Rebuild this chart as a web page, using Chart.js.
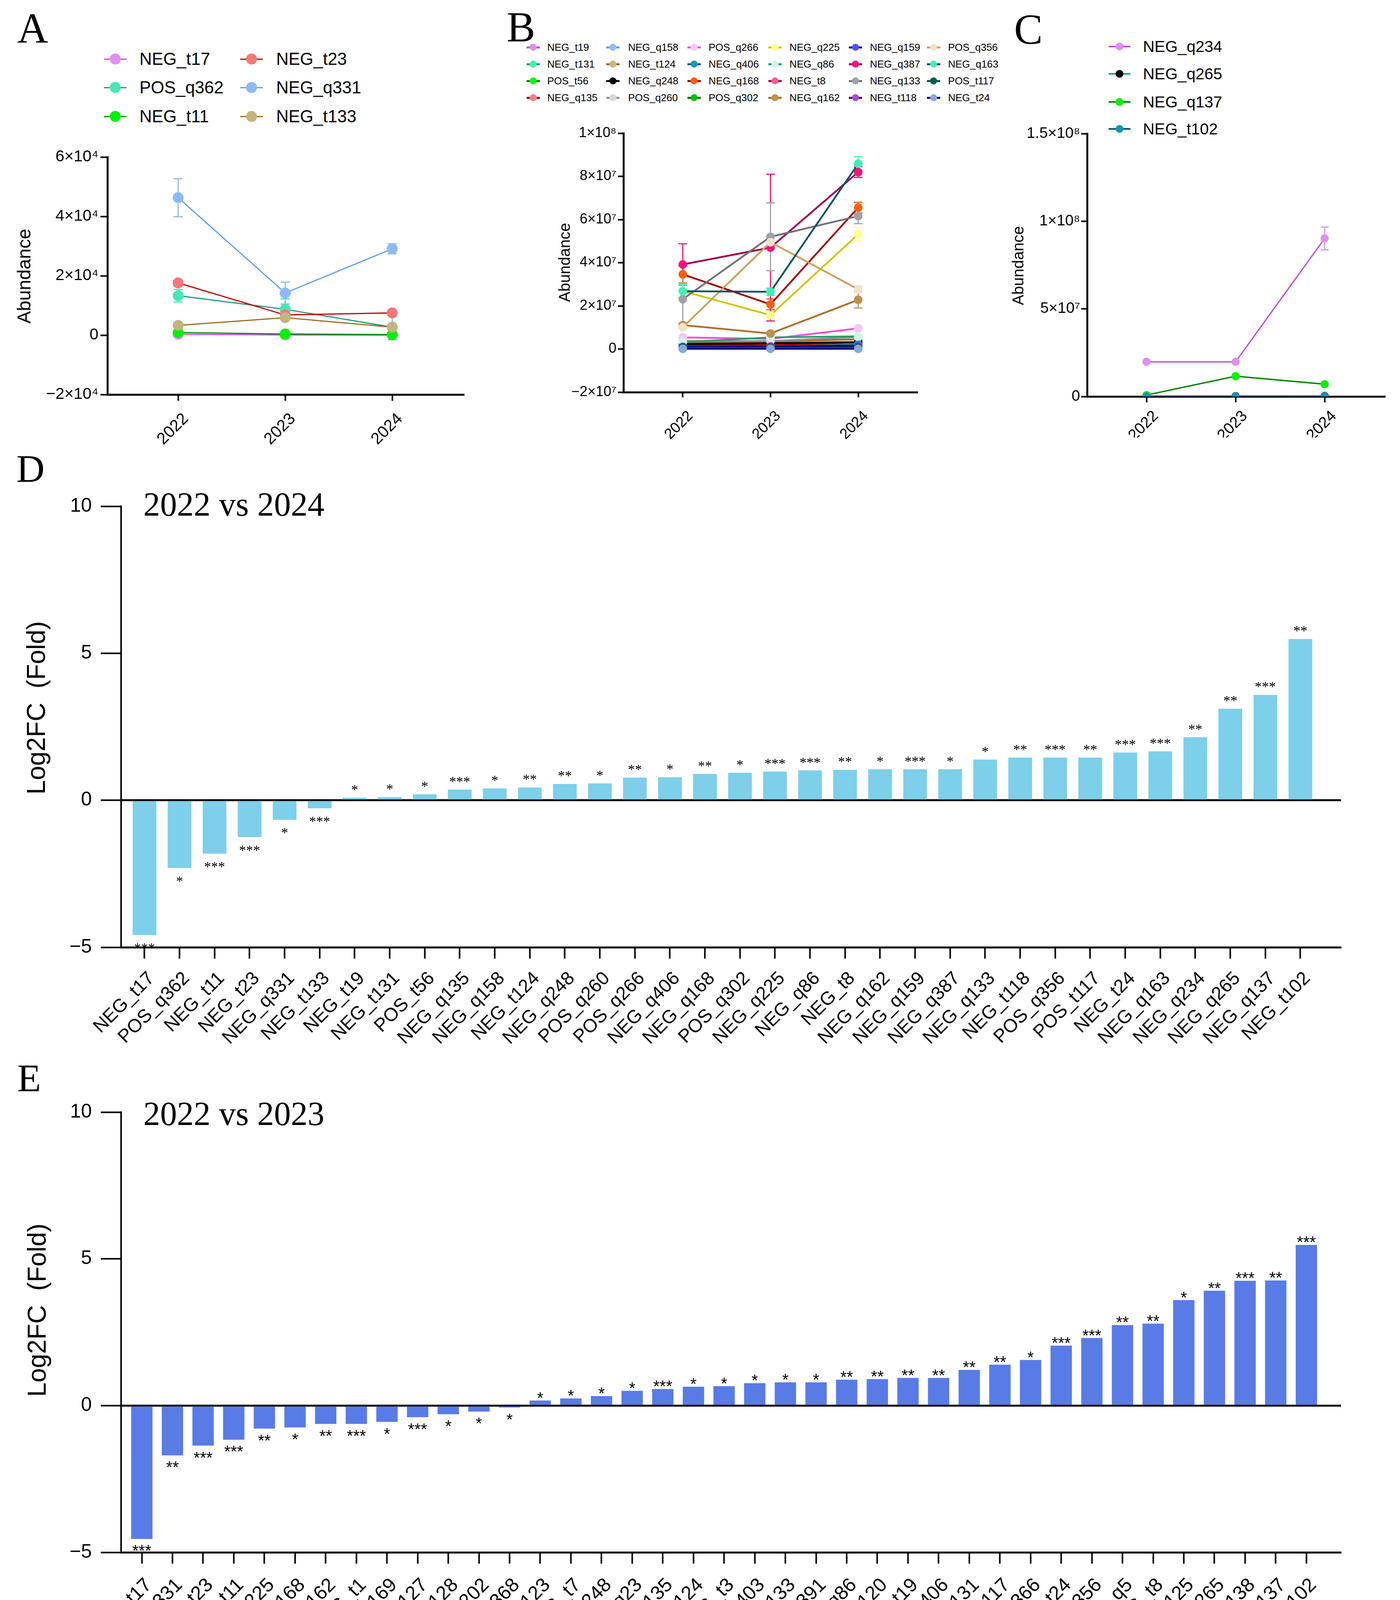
<!DOCTYPE html>
<html><head><meta charset="utf-8">
<script src="https://cdn.jsdelivr.net/npm/chart.js@4.4.1/dist/chart.umd.min.js"></script>
<style>
html,body{margin:0;padding:0;background:#fff}
body{width:3584px;height:5902px;position:relative;overflow:hidden;font-family:"Liberation Sans",Arial,sans-serif;color:#000}
canvas{position:absolute}
.t{position:absolute;line-height:1;white-space:nowrap}
.serif{font-family:"Liberation Serif","Times New Roman",serif}
.rot{transform:translate(-50%,-50%) rotate(-90deg)}
</style></head><body>

<canvas id="cA" width="1250" height="800" style="left:0;top:350px"></canvas>
<canvas id="cB" width="1300" height="840" style="left:1290px;top:290px"></canvas>
<canvas id="cC" width="994" height="820" style="left:2590px;top:300px"></canvas>
<canvas id="cD" width="3584" height="1530" style="left:0;top:1150px"></canvas>
<canvas id="cE" width="3584" height="1560" style="left:0;top:2780px"></canvas>
<canvas id="cF" width="3584" height="1522" style="left:0;top:4380px"></canvas>

<div class="t serif" style="left:44px;top:17px;font-size:110px">A</div>
<div class="t serif" style="left:1297px;top:14px;font-size:110px">B</div>
<div class="t serif" style="left:2596px;top:20px;font-size:110px">C</div>
<div class="t serif" style="left:42px;top:1150px;font-size:100px">D</div>
<div class="t serif" style="left:44px;top:2710px;font-size:100px">E</div>
<div class="t serif" style="left:62px;top:4379px;font-size:100px">F</div>

<div class="t serif" style="left:367px;top:1248px;font-size:86px">2022 vs 2024</div>
<div class="t serif" style="left:367px;top:2808px;font-size:86px">2022 vs 2023</div>
<div class="t serif" style="left:367px;top:4420px;font-size:86px">2023 vs 2024</div>

<div class="t rot" style="left:62px;top:707px;font-size:48px">Abundance</div>
<div class="t rot" style="left:1445px;top:672px;font-size:40px">Abundance</div>
<div class="t rot" style="left:2606px;top:680px;font-size:40px">Abundance</div>
<div class="t rot" style="left:92px;top:1812px;font-size:66px">Log2FC&nbsp; (Fold)</div>
<div class="t rot" style="left:94px;top:3354px;font-size:66px">Log2FC&nbsp; (Fold)</div>
<div class="t rot" style="left:97px;top:4982px;font-size:66px">Log2FC&nbsp; (Fold)</div>

<script>
const years=[2022,2023,2024];

/* A: down-regulated features */
const aNames=["NEG_t17","POS_q362","NEG_t11","NEG_t23","NEG_q331","NEG_t133"];
const aMean=[[300,60,15],[13300,8700,2700],[900,400,200],[17600,6800,7500],[46300,14200,29100],[3300,5900,2700]];
const aErr=[[0,0,0],[2100,3500,4200],[0,0,0],[0,0,0],[6400,3700,1700],[0,0,0]];
const aYTicks=["−2×10⁴","0","2×10⁴","4×10⁴","6×10⁴"];
const aMarker=["#e48ef0","#46e8b4","#00f000","#f47878","#8ebaf4","#c4b482"];
const aLine=["#c050e0","#1a9a78","#009000","#c00000","#5a9cf0","#a06a20"];

/* B */
const bNames=["NEG_t19","NEG_t131","POS_t56","NEG_q135","NEG_q158","NEG_t124","NEG_q248","POS_q260",
 "POS_q266","NEG_q406","NEG_q168","POS_q302","NEG_q225","NEG_q86","NEG_t8","NEG_q162",
 "NEG_q159","NEG_q387","NEG_q133","NEG_t118","POS_q356","NEG_q163","POS_t117","NEG_t24"];
const bMean=[[8e5,5e5,1e6],[1.5e6,1.2e6,2e6],[5e5,4e5,6e5],[2e6,1.8e6,3e6],[2e5,2e5,3e5],[3e6,3.5e6,4.5e6],[2.3e6,2.7e6,3.2e6],[3.7e6,3.7e6,5.5e6],
 [5.4e6,4.7e6,9.6e6],[1.5e6,1e6,2e6],[3.46e7,2.07e7,6.55e7],[5e5,6e5,6e5],[2.68e7,1.57e7,5.32e7],[3.2e6,5.4e6,5.9e6],[1e6,1.2e6,1.5e6],[1.11e7,7.2e6,2.28e7],
 [1e6,1e6,1.5e6],[3.92e7,4.7e7,8.2e7],[2.31e7,5.2e7,6.16e7],[5e5,5e5,8e5],[1.01e7,4.95e7,2.77e7],[2.68e7,2.65e7,8.59e7],[6e5,6e5,7e5],[1e5,1e5,1e5]];
const bErr=[[0,0,0],[0,0,0],[0,0,0],[0,0,0],[0,0,0],[0,0,0],[0,0,0],[0,0,0],
 [0,0,0],[0,0,0],[4e6,2.5e6,2.5e6],[0,0,0],[1.5e6,1.5e6,3.2e6],[0,0,0],[0,0,0],[1e6,5e5,3.8e6],
 [0,0,0],[9.6e6,3.4e7,2.5e6],[1.17e7,1.57e7,3.5e6],[0,0,0],[5e5,1e6,1.5e6],[3e6,1.7e6,3.2e6],[0,0,0],[0,0,0]];
const bYTicks=["−2×10⁷","0","2×10⁷","4×10⁷","6×10⁷","8×10⁷","1×10⁸"];
const bMarker=["#e08cf0","#44eeb4","#00ff00","#f88080","#90bef6","#c8b888","#000000","#d8d8d8",
 "#f4c8f4","#1898b8","#ff6010","#00c000","#ffff90","#cff7e6","#f06090","#c09050",
 "#5050ff","#ff1080","#a0a0a8","#a050d0","#ede4c8","#40f0b4","#006048","#88a8d8"];
const bLine=["#c050d8","#20a07a","#008000","#a00000","#5a9ef0","#a06820","#000000","#909090",
 "#ff48d8","#005878","#a00000","#006000","#c8c800","#20a070","#a00048","#a8702a",
 "#000080","#a00050","#707070","#400060","#c8a060","#005060","#005050","#000080"];

/* C */
const cNames=["NEG_q234","NEG_q265","NEG_q137","NEG_t102"];
const cMean=[[1.98e7,1.98e7,9.02e7],[2e5,2e5,3e5],[8e5,1.16e7,7e6],[1e5,1e5,1e5]];
const cErr=[[0,0,6.5e6],[0,0,0],[0,0,0],[0,0,0]];
const cYTicks=["0","5×10⁷","1×10⁸","1.5×10⁸"];
const cMarker=["#e08ef0","#000000","#00f000","#1095b0"];
const cLine=["#c050e0","#20a080","#008000","#00506a"];

/* D: 2022 vs 2024 */
const dLabels=["NEG_t17","POS_q362","NEG_t11","NEG_t23","NEG_q331","NEG_t133","NEG_t19","NEG_t131","POS_t56","NEG_q135","NEG_q158","NEG_t124",
 "NEG_q248","POS_q260","POS_q266","NEG_q406","NEG_q168","POS_q302","NEG_q225","NEG_q86","NEG_t8","NEG_q162","NEG_q159","NEG_q387",
 "NEG_q133","NEG_t118","POS_q356","POS_t117","NEG_t24","NEG_q163","NEG_q234","NEG_q265","NEG_q137","NEG_t102"];
const dValues=[-4.58,-2.30,-1.81,-1.25,-0.66,-0.27,0.08,0.10,0.20,0.36,0.40,0.43,
 0.55,0.57,0.77,0.78,0.89,0.93,0.97,1.01,1.03,1.05,1.05,1.05,
 1.38,1.45,1.45,1.45,1.62,1.66,2.14,3.11,3.58,5.48];
const dSig=["***","*","***","***","*","***","*","*","*","***","*","**",
 "**","*","**","*","**","*","***","***","**","*","***","*",
 "*","**","***","**","***","***","**","**","***","**"];
const dYTicks=["−5","0","5","10"];

/* E: 2022 vs 2023 */
const eLabels=["NEG_t17","NEG_q331","NEG_t23","NEG_t11","NEG_q225","NEG_q168","NEG_q162","POS_t1","NEG_q169","NEG_q127","NEG_q128","NEG_q202","NEG_q368",
 "POS_t123","NEG_t7","NEG_q248","POS_q23","NEG_q135","POS_q124","NEG_t3","NEG_q403","NEG_t133","NEG_q391","NEG_q86","POS_t120","NEG_t19",
 "NEG_q406","NEG_t131","POS_t117","NEG_q366","NEG_t24","POS_q356","POS_q5","NEG_t8","POS_q125","NEG_q265","NEG_q138","NEG_q137","NEG_t102"];
const eValues=[-4.54,-1.69,-1.36,-1.16,-0.78,-0.74,-0.62,-0.62,-0.55,-0.39,-0.29,-0.20,-0.06,
 0.17,0.24,0.32,0.50,0.56,0.64,0.66,0.76,0.79,0.79,0.88,0.90,0.94,
 0.94,1.21,1.39,1.55,2.04,2.30,2.74,2.79,3.59,3.91,4.25,4.26,5.47];
const eSig=["***","**","***","***","**","*","**","***","*","***","*","*","*",
 "*","*","*","*","***","*","*","*","*","*","**","**","**",
 "**","**","**","*","***","***","**","**","*","**","***","**","***"];
const eYTicks=["−5","0","5","10"];

/* F: 2023 vs 2024 */
const fLabels=["NEG_t8","NEG_q138","POS_q5","NEG_q366","NEG_t131","NEG_t133","POS_t120","NEG_t19","POS_q356","NEG_q265","NEG_q137","POS_q222",
 "NEG_t11","NEG_t24","NEG_q135","NEG_q202","NEG_t13","POS_t56","NEG_q346","NEG_q127","POS_q260","NEG_t124","POS_t1","POS_q6",
 "POS_q262","POS_q266","NEG_q331","NEG_q159","NEG_t118","NEG_q168","NEG_q162","NEG_q163","NEG_q225","NEG_q234","NEG_q368"];
const fValues=[-1.78,-1.65,-1.61,-1.17,-1.11,-1.03,-0.93,-0.83,-0.82,-0.79,-0.68,-0.68,
 -0.63,-0.40,-0.18,0.21,0.23,0.29,0.33,0.39,0.56,0.66,0.70,0.76,
 0.79,0.99,1.03,1.12,1.58,1.65,1.68,1.70,1.76,2.18,2.49];
const fSig=["**","*","*","*","**","**","**","**","***","*","**","*",
 "**","*","**","***","*","*","*","**","*","**","*","*",
 "**","*","**","***","**","***","*","***","***","**","*"];
const fYTicks=["−2","−1","0","1","2","3"];

Chart.defaults.font.family='"Liberation Sans", Arial, sans-serif';
Chart.defaults.color='#000';
Chart.defaults.animation=false;

// error bars in the marker colour, under the points
const errorBars={
 id:'errorBars',
 beforeDatasetsDraw(chart,args,o){
  const {ctx,scales:{x,y}}=chart;
  chart.data.datasets.forEach(ds=>{
   if(!ds.errors)return;
   ds.errors.forEach((e,j)=>{
    if(!e)return;
    const p=ds.data[j];
    const px=x.getPixelForValue(p.x);
    const top=y.getPixelForValue(p.y+e),bot=y.getPixelForValue(p.y-e);
    ctx.save();
    ctx.strokeStyle=ds.pointBackgroundColor;
    ctx.lineWidth=o.width;
    ctx.beginPath();
    ctx.moveTo(px,top);ctx.lineTo(px,bot);
    ctx.moveTo(px-o.cap,top);ctx.lineTo(px+o.cap,top);
    ctx.moveTo(px-o.cap,bot);ctx.lineTo(px+o.cap,bot);
    ctx.stroke();
    ctx.restore();
   });
  });
 }
};

// significance stars above / below each bar
const sigStars={
 id:'sigStars',
 afterDatasetsDraw(chart,args,o){
  const ctx=chart.ctx;
  const ds=chart.data.datasets[0];
  const meta=chart.getDatasetMeta(0);
  ctx.save();
  ctx.font=o.font;
  ctx.fillStyle='#000';
  ctx.textAlign='center';
  ctx.textBaseline='alphabetic';
  meta.data.forEach((bar,i)=>{
   const v=ds.data[i].y;
   const cy=v>=0?bar.y-o.up:bar.y+o.down;
   ctx.fillText(ds.sig[i],bar.x,cy+o.shift);
  });
  ctx.restore();
 }
};

function lineChart(id,names,mean,err,marker,line,o){
 const datasets=names.map((n,i)=>({
  label:n,
  data:mean[i].map((v,j)=>({x:years[j],y:v})),
  errors:err[i],
  borderColor:line[i],
  backgroundColor:marker[i],
  pointBackgroundColor:marker[i],
  pointBorderColor:marker[i],
  pointBorderWidth:0,
  pointRadius:o.r,
  borderWidth:o.lw,
  tension:0,
  fill:false,
  order:-i
 }));
 return new Chart(document.getElementById(id),{
  type:'line',
  data:{datasets},
  options:{
   responsive:false,devicePixelRatio:1,animation:false,
   layout:{padding:{left:0,top:o.top,right:o.right,bottom:0}},
   plugins:{legend:{display:false},tooltip:{enabled:false},errorBars:{width:o.ew,cap:o.cap}},
   scales:{
    x:{type:'linear',min:o.xmin,max:o.xmax,
     afterBuildTicks:a=>{a.ticks=years.map(v=>({value:v}));},
     afterFit:s=>{s.height=o.xh;},
     grid:{drawOnChartArea:false,tickLength:o.xtl,tickWidth:4,tickColor:'#000'},
     border:{width:5,color:'#000'},
     ticks:{minRotation:45,maxRotation:45,autoSkip:false,padding:o.xpad,labelOffset:o.xoff,font:{size:o.xfs},callback:v=>String(v)}},
    y:{min:o.ymin,max:o.ymax,
     afterFit:s=>{s.width=o.yw;},
     grid:{drawOnChartArea:false,tickLength:o.ytl,tickWidth:4,tickColor:'#000'},
     border:{width:5,color:'#000'},
     ticks:{stepSize:o.step,padding:o.ypad,font:{size:o.yfs},callback:(v,i)=>o.ylabels[i]}}
   }
  },
  plugins:[errorBars]
 });
}

function barChart(id,labels,values,sig,o){
 return new Chart(document.getElementById(id),{
  type:'bar',
  data:{datasets:[{data:values.map((v,i)=>({x:i,y:v})),sig,backgroundColor:o.color,barThickness:o.bw}]},
  options:{
   responsive:false,devicePixelRatio:1,animation:false,
   layout:{padding:{left:0,top:o.top,right:o.right,bottom:0}},
   plugins:{legend:{display:false},tooltip:{enabled:false},sigStars:{font:o.starFont,up:o.up,down:o.down,shift:o.shift}},
   scales:{
    x:{type:'linear',offset:false,min:o.xmin,max:o.xmax,
     afterBuildTicks:a=>{a.ticks=labels.map((_,i)=>({value:i}));},
     afterFit:s=>{s.height=o.xh;},
     grid:{offset:false,drawOnChartArea:false,tickLength:29,tickWidth:4,tickColor:'#000'},
     border:{width:5,color:'#000'},
     ticks:{minRotation:45,maxRotation:45,autoSkip:false,padding:o.xpad,labelOffset:o.xoff,font:{size:o.xfs},callback:(v,i)=>labels[i]}},
    y:{min:o.ymin,max:o.ymax,
     afterFit:s=>{s.width=o.yw;},
     grid:{color:c=>c.tick&&c.tick.value===0?'#000':'rgba(0,0,0,0)',lineWidth:5,tickLength:52,tickWidth:4,tickColor:'#000'},
     border:{width:4,color:'#000'},
     ticks:{stepSize:o.step,padding:23,font:{size:50},callback:(v,i)=>o.ylabels[i]}}
   }
  },
  plugins:[sigStars]
 });
}

function legend(names,marker,line,o){
 names.forEach((n,i)=>{
  const col=Math.floor(i/o.rows),row=i%o.rows;
  const mx=o.mx[col],y=o.ry[row];
  const l=document.createElement('div');
  l.style.cssText=`position:absolute;left:${mx-o.half}px;top:${y-o.lw/2}px;width:${2*o.half}px;height:${o.lw}px;background:${line[i]}`;
  const m=document.createElement('div');
  m.style.cssText=`position:absolute;left:${mx-o.r}px;top:${y-o.r}px;width:${2*o.r}px;height:${2*o.r}px;border-radius:50%;background:${marker[i]}`;
  const t=document.createElement('div');
  t.className='t';
  t.style.cssText+=`left:${o.tx[col]}px;top:${y-o.fs/2}px;font-size:${o.fs}px`;
  t.textContent=n;
  document.body.append(l,m,t);
 });
}

lineChart('cA',aNames,aMean,aErr,aMarker,aLine,{r:14,lw:3,ew:3,cap:12,top:52,right:62,xmin:2021.339,xmax:2024.671,xh:140,xtl:16,xpad:22,xoff:20,xfs:42,
 ymin:-20000,ymax:60000,step:20000,ylabels:aYTicks,yw:275,ytl:18,ypad:5,yfs:41});
lineChart('cB',bNames,bMean,bErr,bMarker,bLine,{r:11,lw:4.5,ew:3,cap:11,top:51,right:241,xmin:2021.323,xmax:2024.677,xh:126,xtl:13,xpad:26,xoff:20,xfs:38,
 ymin:-2e7,ymax:1e8,step:2e7,ylabels:bYTicks,yw:306,ytl:14,ypad:4,yfs:36});
lineChart('cC',cNames,cMean,cErr,cMarker,cLine,{r:10.5,lw:3.5,ew:3,cap:10,top:42,right:38,xmin:2021.333,xmax:2024.679,xh:105,xtl:15,xpad:12,xoff:24,xfs:40,
 ymin:0,ymax:1.5e8,step:5e7,ylabels:cYTicks,yw:193,ytl:15,ypad:3,yfs:39});

legend(aNames,aMarker,aLine,{rows:3,mx:[295,644],tx:[357,707],ry:[151,224,298],half:29,lw:3,r:14,fs:44});
legend(bNames,bMarker,bLine,{rows:4,mx:[1365,1569,1777,1984,2190,2390],tx:[1401,1608,1814,2021,2227,2427],ry:[121,164,207,250],half:17,lw:5,r:9,fs:26});
legend(cNames,cMarker,cLine,{rows:4,mx:[2866],tx:[2926],ry:[119,189,261,330],half:28,lw:4,r:10,fs:41});

barChart('cD',dLabels,dValues,dSig,{color:'#7dcfea',bw:60,top:146,right:151,yw:310,xh:255,xmin:-0.669,xmax:34.16,xpad:23,xoff:18,xfs:48,
 ymin:-5,ymax:10,step:5,ylabels:dYTicks,starFont:'36px "Liberation Serif"',up:27,down:28,shift:18});
barChart('cE',eLabels,eValues,eSig,{color:'#597be6',bw:54,top:67,right:151,yw:310,xh:366,xmin:-0.676,xmax:39.13,xpad:26,xoff:18,xfs:50,
 ymin:-5,ymax:10,step:5,ylabels:eYTicks,starFont:'42px "Liberation Sans"',up:17,down:21,shift:24});
barChart('cF',fLabels,fValues,fSig,{color:'#21548c',bw:57,top:95,right:157,yw:307,xh:299,xmin:-0.636,xmax:34.78,xpad:26,xoff:18,xfs:50,
 ymin:-2,ymax:3,step:1,ylabels:fYTicks,starFont:'42px "Liberation Sans"',up:19,down:17,shift:24});
</script>
</body></html>
